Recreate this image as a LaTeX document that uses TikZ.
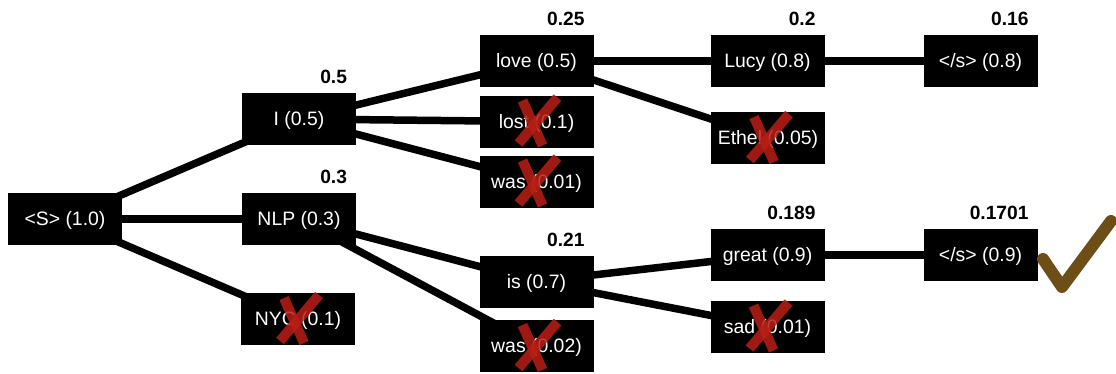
\documentclass[tikz,border=0pt]{standalone}
\usepackage{fontspec}
\setmainfont{Liberation Sans}
\usetikzlibrary{calc,backgrounds}
\definecolor{xred}{RGB}{185,30,20}
\definecolor{tickbrown}{RGB}{108,78,22}
\begin{document}
\begin{tikzpicture}[x=1pt,y=-1pt,
  tok/.style={fill=black,text=white,minimum width=114pt,minimum height=52pt,
              inner sep=0pt,text height=13.9pt,text depth=0pt,
              font=\fontsize{19.4}{22}\selectfont},
  prob/.style={anchor=base east,inner sep=0pt,font=\fontsize{19.2}{22}\selectfont\bfseries},
  link/.style={line width=7.5pt},
  xmark/.style={draw=xred,line width=10pt,opacity=0.85},
  pruned/.pic={\draw[xmark] (-14,-21) -- (6,24); \draw[xmark] (21,-24) -- (-18,22);}
]
\useasboundingbox (0,0) rectangle (1116,373);

% beam search tree: tokens with their probabilities
\node[tok] (s)     at (65,219)    {<S> (1.0)};
\node[tok] (i)     at (299,119)   {I (0.5)};
\node[tok] (nlp)   at (299,219)   {NLP (0.3)};
\node[tok] (nyc)   at (298,319)   {NYC (0.1)};
\node[tok] (love)  at (536.5,61)  {love (0.5)};
\node[tok] (lost)  at (536.5,121.5) {lost (0.1)};
\node[tok] (wasa)  at (536.5,181.5) {was (0.01)};
\node[tok] (is)    at (536.5,281.5) {is (0.7)};
\node[tok] (wasb)  at (536.5,346) {was (0.02)};
\node[tok] (lucy)  at (767.5,61)  {Lucy (0.8)};
\node[tok] (ethel) at (768,138)   {Ethel (0.05)};
\node[tok] (great) at (767.5,255) {great (0.9)};
\node[tok] (sad)   at (767.5,326.5) {sad (0.01)};
\node[tok] (enda)  at (980.5,61)  {</s> (0.8)};
\node[tok] (endb)  at (980.5,255) {</s> (0.9)};

% cumulative scores of the kept hypotheses
\node[prob] (pi)     at ($(i.north east)+(-9,-9)$)     {0.5};
\node[prob] (pnlp)   at ($(nlp.north east)+(-9,-9)$)   {0.3};
\node[prob] (plove)  at ($(love.north east)+(-9,-9)$)  {0.25};
\node[prob] (pis)    at ($(is.north east)+(-9,-9)$)    {0.21};
\node[prob] (plucy)  at ($(lucy.north east)+(-9,-9)$)  {0.2};
\node[prob] (pgreat) at ($(great.north east)+(-9,-9)$) {0.189};
\node[prob] (penda)  at ($(enda.north east)+(-9,-9)$)  {0.16};
\node[prob] (pendb)  at ($(endb.north east)+(-9,-9)$)  {0.1701};

% tree edges, behind the boxes
\begin{scope}[on background layer]
\draw[link] (s.center) -- (i.center);
\draw[link] (s.center) -- (nlp.center);
\draw[link] (s.center) -- (nyc.center);
\draw[link] (i.center) -- (love.center);
\draw[link] (i.center) -- (lost.center);
\draw[link] (i.center) -- (wasa.center);
\draw[link] (nlp.center) -- (is.center);
\draw[link] (nlp.center) -- (wasb.center);
\draw[link] (love.center) -- (lucy.center);
\draw[link] (love.center) -- (ethel.center);
\draw[link] (lucy.center) -- (enda.center);
\draw[link] (is.center) -- (great.center);
\draw[link] (is.center) -- (sad.center);
\draw[link] (great.center) -- (endb.center);
\end{scope}

% pruned hypotheses
\pic at (nyc) {pruned};
\pic at (lost) {pruned};
\pic at (wasa) {pruned};
\pic at (wasb) {pruned};
\pic at (ethel) {pruned};
\pic at (sad) {pruned};

% best finished hypothesis
\draw[tickbrown,line width=12pt,line cap=round,line join=round]
  (1043,259) -- (1062,287) -- (1111,221);
\end{tikzpicture}
\end{document}
